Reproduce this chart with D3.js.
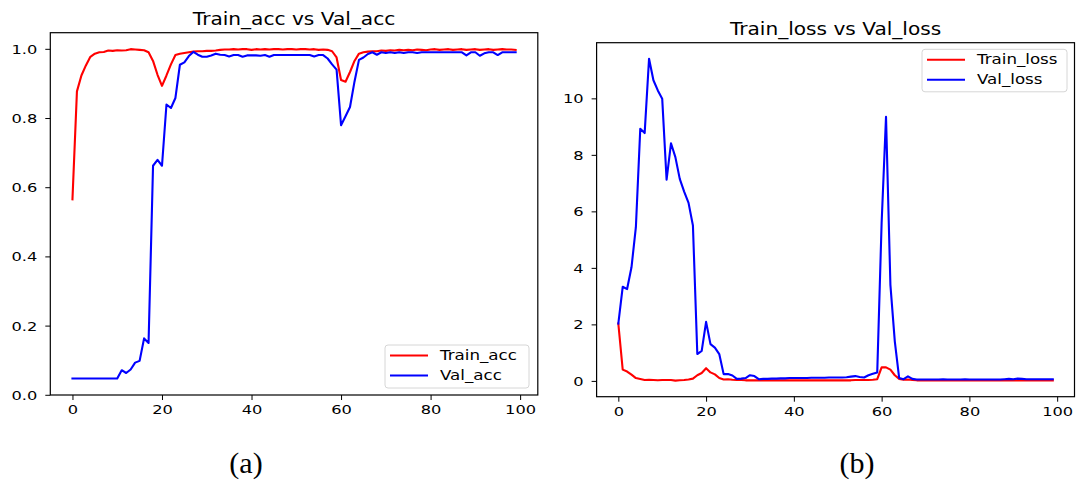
<!DOCTYPE html>
<html>
<head>
<meta charset="utf-8">
<script src="https://cdn.jsdelivr.net/npm/d3@7"></script>
<style>
  html, body { margin: 0; padding: 0; background: #fff; }
  svg { display: block; }
  text { font-family: "DejaVu Sans", sans-serif; fill: #000; }
</style>
</head>
<body>
<svg id="fig" width="1077" height="481"></svg>
<script>
// Training history, one value per epoch (0..99)
const epochs = d3.range(100);

const trainAcc = [
  0.565, 0.877, 0.923, 0.952, 0.977, 0.986, 0.990, 0.991, 0.995, 0.994,
  0.996, 0.995, 0.996, 0.999, 0.998, 0.997, 0.996, 0.990, 0.965, 0.925,
  0.893, 0.923, 0.955, 0.982, 0.986, 0.988, 0.990, 0.992, 0.993, 0.993,
  0.994, 0.994, 0.995, 0.997, 0.998, 0.998, 0.999, 0.998, 0.999, 0.999,
  0.997, 0.999, 0.998, 0.999, 0.998, 0.999, 0.999, 0.998, 0.999, 0.999,
  0.998, 0.999, 0.999, 0.998, 0.999, 0.997, 0.998, 0.997, 0.993, 0.975,
  0.910, 0.905, 0.933, 0.965, 0.986, 0.990, 0.992, 0.993, 0.993, 0.995,
  0.994, 0.996, 0.995, 0.997, 0.996, 0.997, 0.996, 0.998, 0.997, 0.996,
  0.998, 0.999, 0.997, 0.998, 0.999, 0.997, 0.998, 0.999, 0.997, 0.998,
  0.999, 0.997, 0.998, 0.999, 0.997, 0.998, 0.999, 0.998, 0.998, 0.997
];

const valAcc = [
  0.047, 0.047, 0.047, 0.047, 0.047, 0.047, 0.047, 0.047, 0.047, 0.047,
  0.047, 0.071, 0.063, 0.073, 0.093, 0.098, 0.163, 0.150, 0.662, 0.679,
  0.662, 0.839, 0.829, 0.858, 0.954, 0.961, 0.979, 0.991, 0.983, 0.977,
  0.977, 0.981, 0.986, 0.983, 0.982, 0.978, 0.982, 0.982, 0.977, 0.981,
  0.981, 0.981, 0.980, 0.982, 0.977, 0.982, 0.982, 0.982, 0.982, 0.982,
  0.982, 0.982, 0.982, 0.982, 0.978, 0.982, 0.982, 0.972, 0.955, 0.940,
  0.779, 0.805, 0.832, 0.905, 0.968, 0.975, 0.985, 0.990, 0.983, 0.990,
  0.988, 0.990, 0.988, 0.990, 0.988, 0.990, 0.990, 0.988, 0.990, 0.990,
  0.990, 0.990, 0.990, 0.990, 0.990, 0.990, 0.990, 0.990, 0.981, 0.990,
  0.990, 0.980, 0.987, 0.990, 0.990, 0.982, 0.990, 0.990, 0.990, 0.990
];

const trainLoss = [
  2.03, 0.40, 0.33, 0.22, 0.10, 0.07, 0.03, 0.04, 0.03, 0.02,
  0.03, 0.03, 0.03, 0.01, 0.02, 0.03, 0.05, 0.08, 0.20, 0.28,
  0.45, 0.30, 0.23, 0.10, 0.05, 0.06, 0.04, 0.03, 0.03, 0.02,
  0.02, 0.02, 0.02, 0.02, 0.02, 0.02, 0.02, 0.02, 0.02, 0.02,
  0.02, 0.02, 0.02, 0.02, 0.02, 0.02, 0.02, 0.02, 0.02, 0.02,
  0.02, 0.02, 0.02, 0.02, 0.03, 0.03, 0.03, 0.03, 0.04, 0.06,
  0.48, 0.48, 0.40, 0.20, 0.07, 0.04, 0.05, 0.03, 0.02, 0.02,
  0.02, 0.02, 0.02, 0.02, 0.02, 0.02, 0.02, 0.02, 0.02, 0.02,
  0.02, 0.02, 0.02, 0.02, 0.02, 0.02, 0.02, 0.02, 0.02, 0.02,
  0.02, 0.02, 0.02, 0.02, 0.02, 0.02, 0.02, 0.02, 0.02, 0.02
];

const valLoss = [
  2.03, 3.33, 3.25, 4.02, 5.44, 8.92, 8.77, 11.40, 10.64, 10.28,
  9.99, 7.12, 8.41, 7.92, 7.15, 6.70, 6.30, 5.50, 0.95, 1.06,
  2.09, 1.30, 1.18, 0.95, 0.24, 0.24, 0.19, 0.07, 0.08, 0.10,
  0.20, 0.17, 0.06, 0.07, 0.07, 0.08, 0.08, 0.09, 0.09, 0.10,
  0.10, 0.10, 0.10, 0.10, 0.11, 0.11, 0.11, 0.11, 0.12, 0.12,
  0.12, 0.12, 0.13, 0.15, 0.17, 0.14, 0.12, 0.20, 0.25, 0.30,
  5.60, 9.35, 3.40, 1.40, 0.10, 0.06, 0.16, 0.07, 0.05, 0.05,
  0.05, 0.05, 0.05, 0.05, 0.06, 0.05, 0.05, 0.05, 0.05, 0.06,
  0.05, 0.05, 0.05, 0.05, 0.05, 0.05, 0.05, 0.05, 0.06, 0.07,
  0.06, 0.08, 0.07, 0.06, 0.06, 0.06, 0.06, 0.06, 0.06, 0.06
];

const xTicks = [0, 20, 40, 60, 80, 100];
const accTicks = [0.0, 0.2, 0.4, 0.6, 0.8, 1.0];
const lossTicks = [0, 2, 4, 6, 8, 10];

const panels = [
  {
    title: "Train_acc vs Val_acc", caption: "(a)",
    box: { left: 50.3, right: 537.8, top: 32.7, bottom: 395 },
    series: [
      { name: "Train_acc", values: trainAcc, color: "#ff0000" },
      { name: "Val_acc", values: valAcc, color: "#0000ff" }
    ],
    yTicks: accTicks, yFormat: d3.format(".1f"),
    legend: { x: 385, y: 345, w: 144, h: 43 },
    captionX: 246, titleY: 25
  },
  {
    title: "Train_loss vs Val_loss", caption: "(b)",
    box: { left: 596.6, right: 1074.5, top: 42.7, bottom: 396.7 },
    series: [
      { name: "Train_loss", values: trainLoss, color: "#ff0000" },
      { name: "Val_loss", values: valLoss, color: "#0000ff" }
    ],
    yTicks: lossTicks, yFormat: d3.format("d"),
    legend: { x: 922, y: 49.3, w: 145, h: 42.5 },
    captionX: 857, titleY: 35
  }
];

const svg = d3.select("#fig");

// Text is drawn slightly widened horizontally, like the exported figure
function label(g, x, y, str, size, sx, anchor, baseline) {
  return g.append("text")
    .attr("transform", `translate(${x},${y}) scale(${sx},1)`)
    .attr("text-anchor", anchor || "start")
    .attr("dominant-baseline", baseline || "auto")
    .style("font-size", size + "px")
    .text(str);
}

// matplotlib-style 5% padding around the data range
function padded(lo, hi) {
  const m = (hi - lo) * 0.05;
  return [lo - m, hi + m];
}

panels.forEach(p => {
  const b = p.box;
  const g = svg.append("g");

  const x = d3.scaleLinear().domain(padded(0, 99)).range([b.left, b.right]);
  const all = p.series.flatMap(s => s.values);
  const y = d3.scaleLinear().domain(padded(d3.min(all), d3.max(all))).range([b.bottom, b.top]);

  // data lines
  const line = d3.line().x((d, i) => x(epochs[i])).y(d => y(d));
  p.series.forEach(s => {
    g.append("path")
      .datum(s.values)
      .attr("fill", "none")
      .attr("stroke", s.color)
      .attr("stroke-width", 2.1)
      .attr("stroke-linejoin", "round")
      .attr("stroke-linecap", "square")
      .attr("d", line);
  });

  // axes
  const xa = g.append("g")
    .attr("transform", `translate(0,${b.bottom})`)
    .call(d3.axisBottom(x).tickValues(xTicks).tickSizeInner(5).tickSizeOuter(0).tickPadding(0));
  xa.select(".domain").remove();
  xa.selectAll(".tick line").attr("stroke", "#000").attr("stroke-width", 1);
  xa.selectAll(".tick text")
    .attr("y", 0).attr("dy", null)
    .attr("transform", "translate(0,19) scale(1.3,1)")
    .style("font-size", "12.5px")
    .style("font-family", "DejaVu Sans, sans-serif")
    .attr("fill", "#000");

  const ya = g.append("g")
    .attr("transform", `translate(${b.left},0)`)
    .call(d3.axisLeft(y).tickValues(p.yTicks).tickFormat(p.yFormat).tickSizeInner(5).tickSizeOuter(0).tickPadding(0));
  ya.select(".domain").remove();
  ya.selectAll(".tick line").attr("stroke", "#000").attr("stroke-width", 1);
  ya.selectAll(".tick text")
    .attr("x", 0).attr("dy", "0.36em")
    .attr("transform", "translate(-13,0) scale(1.3,1)")
    .style("font-size", "12.5px")
    .style("font-family", "DejaVu Sans, sans-serif")
    .attr("fill", "#000");

  // frame
  g.append("rect")
    .attr("x", b.left).attr("y", b.top)
    .attr("width", b.right - b.left).attr("height", b.bottom - b.top)
    .attr("fill", "none").attr("stroke", "#000").attr("stroke-width", 1.2);

  // title
  label(g, (b.left + b.right) / 2, p.titleY, p.title, 17.5, 1.15, "middle");

  // legend
  const L = p.legend;
  const lg = g.append("g");
  lg.append("rect")
    .attr("x", L.x).attr("y", L.y).attr("width", L.w).attr("height", L.h)
    .attr("rx", 3).attr("fill", "#fff").attr("fill-opacity", 0.8)
    .attr("stroke", "#d6d6d6").attr("stroke-width", 1);
  p.series.forEach((s, k) => {
    const cy = L.y + 10.5 + k * 20;
    lg.append("line")
      .attr("x1", L.x + 5).attr("x2", L.x + 43)
      .attr("y1", cy).attr("y2", cy)
      .attr("stroke", s.color).attr("stroke-width", 2.1);
    label(lg, L.x + 55, cy, s.name, 14.5, 1.15, "start", "central");
  });

  // panel caption
  svg.append("text")
    .attr("x", p.captionX).attr("y", 473)
    .attr("text-anchor", "middle")
    .style("font-family", "Liberation Serif, serif")
    .style("font-size", "30px")
    .text(p.caption);
});
</script>
</body>
</html>
